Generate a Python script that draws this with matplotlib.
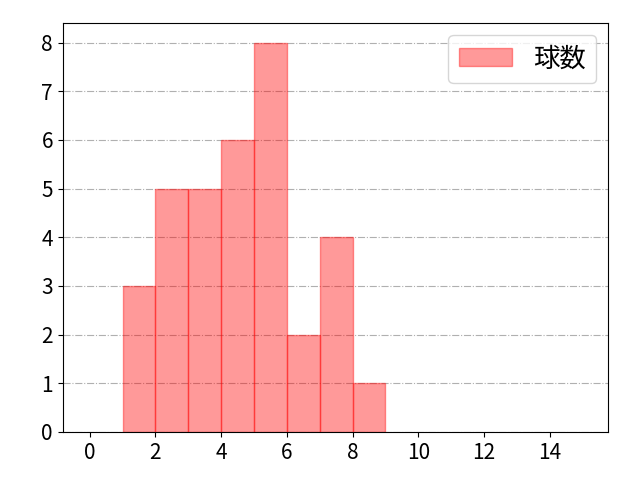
import matplotlib
matplotlib.use("Agg")
import matplotlib.pyplot as plt

plt.rcParams['font.family'] = ['Noto Sans CJK JP', 'DejaVu Sans']

# 球数の分布 (ビンの左端と度数)
bin_edges = [1, 2, 3, 4, 5, 6, 7, 8, 9]
counts = [3, 5, 5, 6, 8, 2, 4, 1]
label = "球数"

fig, ax = plt.subplots(figsize=(6.4, 4.8), dpi=100)
ax.hist(bin_edges[:-1], bins=bin_edges, weights=counts, color="red", alpha=0.4,
        edgecolor="red", linewidth=1, label=label)
ax.set_xlim(-0.82, 15.77)
ax.set_xticks(range(0, 15, 2))
ax.set_yticks(range(0, 9))
ax.grid(axis="y", linestyle="-.", color="#b0b0b0")
ax.set_axisbelow(True)
ax.legend(loc="upper right", fontsize=19, borderaxespad=0.45)
ax.tick_params(labelsize=15)
fig.subplots_adjust(left=0.098, right=0.95, top=0.952, bottom=0.1)
fig.savefig("out.png")
